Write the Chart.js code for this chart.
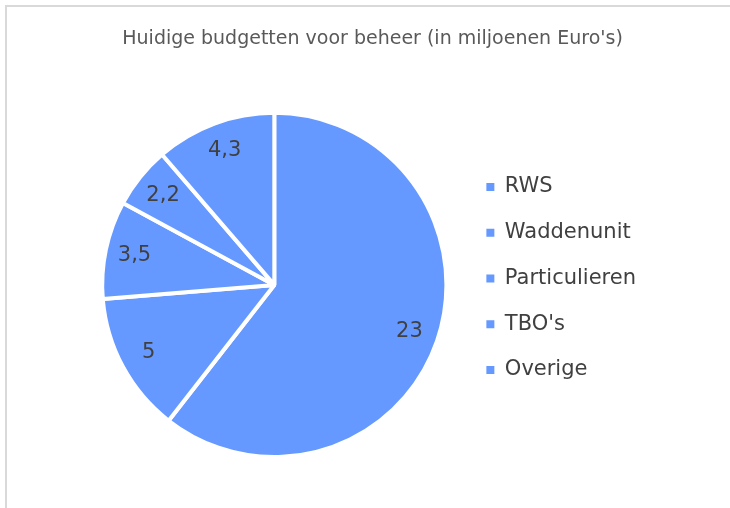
<!DOCTYPE html>
<html>
<head>
<meta charset="utf-8">
<script src="https://cdn.jsdelivr.net/npm/chart.js@4.4.0/dist/chart.umd.min.js"></script>
<style>
  html, body { margin: 0; background: #fff; overflow: hidden; }
  #wrap { position: relative; width: 730px; height: 508px; overflow: hidden; }
  #chart { position: absolute; left: 0; top: 0; }
  #frame {
    position: absolute; left: 5px; top: 5px; width: 760px; height: 540px;
    border-left: 2px solid #d9d9d9; border-top: 2px solid #d9d9d9;
    pointer-events: none;
  }
</style>
</head>
<body>
<div id="wrap">
  <canvas id="chart" width="730" height="508"></canvas>
  <div id="frame"></div>
</div>
<script>
// categories and values (miljoenen euro)
const categories = ['RWS', 'Waddenunit', 'Particulieren', "TBO's", 'Overige'];
const budgets = [23, 5, 3.5, 2.2, 4.3];

const sliceColor = '#6699ff';
const fontName = '"DejaVu Sans", sans-serif';

// Draws the value inside each slice, like Excel data labels
const sliceLabels = {
    id: 'sliceLabels',
    afterDatasetsDraw(chart) {
        const ctx = chart.ctx;
        const meta = chart.getDatasetMeta(0);
        ctx.save();
        ctx.font = '21px ' + fontName;
        ctx.fillStyle = '#404040';
        ctx.textAlign = 'center';
        ctx.textBaseline = 'middle';
        meta.data.forEach((arc, i) => {
            const p = arc.getProps(['x', 'y', 'startAngle', 'endAngle', 'outerRadius'], true);
            const mid = (p.startAngle + p.endAngle) / 2;
            const r = p.outerRadius * 0.83;
            const text = String(budgets[i]).replace('.', ',');
            ctx.fillText(text, p.x + Math.cos(mid) * r, p.y + Math.sin(mid) * r);
        });
        ctx.restore();
    }
};

const defaultLabels = Chart.controllers.pie.overrides.plugins.legend.labels.generateLabels;

new Chart(document.getElementById('chart'), {
    type: 'pie',
    data: {
        labels: categories,
        datasets: [{
            data: budgets,
            backgroundColor: sliceColor,
            borderColor: '#ffffff',
            borderWidth: 4
        }]
    },
    options: {
        responsive: false,
        animation: false,
        layout: { padding: { left: 87, right: 84, top: 0, bottom: 49 } },
        plugins: {
            title: {
                display: true,
                // two leading spaces nudge the centred title a little to the right
                text: "  Huidige budgetten voor beheer (in miljoenen Euro's)",
                color: '#595959',
                font: { family: fontName, size: 19, weight: 'normal' },
                padding: { top: 28, bottom: 60 }
            },
            legend: {
                position: 'right',
                align: 'start',
                fullSize: false,
                // empty title only used to push the items down
                title: { display: true, text: ' ', font: { size: 12 }, padding: 13.25 },
                labels: {
                    color: '#404040',
                    font: { family: fontName, size: 21 },
                    boxWidth: 8,
                    boxHeight: 8,
                    padding: 24.75,
                    generateLabels: chart => defaultLabels(chart).map(item => {
                        item.lineWidth = 0;
                        return item;
                    })
                }
            },
            tooltip: { enabled: false }
        }
    },
    plugins: [sliceLabels]
});
</script>
</body>
</html>
